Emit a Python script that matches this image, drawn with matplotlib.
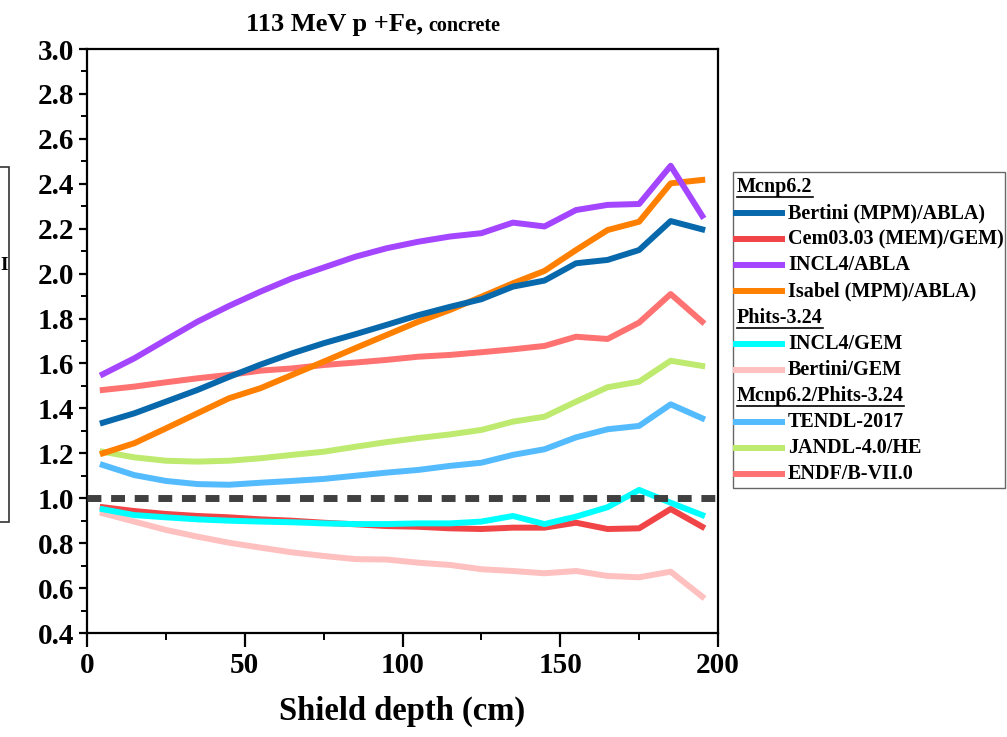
import matplotlib
matplotlib.use("Agg")
import matplotlib.pyplot as plt
from matplotlib.lines import Line2D
from matplotlib.patches import Rectangle
from matplotlib.ticker import MultipleLocator, FormatStrFormatter

plt.rcParams["font.family"] = ["Liberation Serif", "DejaVu Serif"]
plt.rcParams["font.weight"] = "bold"

# ---- data -------------------------------------------------------------
depth = [5, 15, 25, 35, 45, 55, 65, 75, 85, 95,
         105, 115, 125, 135, 145, 155, 165, 175, 185, 195]

bertini_abla = [1.336, 1.378, 1.430, 1.482, 1.540, 1.595, 1.645, 1.690, 1.730, 1.772,
                1.815, 1.852, 1.886, 1.942, 1.969, 2.046, 2.061, 2.105, 2.234, 2.197]
cem_gem = [0.960, 0.943, 0.930, 0.921, 0.915, 0.906, 0.900, 0.891, 0.884, 0.876,
           0.873, 0.866, 0.863, 0.869, 0.869, 0.891, 0.863, 0.866, 0.952, 0.873]
incl4_abla = [1.552, 1.623, 1.705, 1.786, 1.856, 1.920, 1.979, 2.027, 2.075, 2.113,
              2.142, 2.165, 2.180, 2.227, 2.210, 2.283, 2.306, 2.310, 2.480, 2.257]
isabel_abla = [1.200, 1.245, 1.311, 1.378, 1.445, 1.490, 1.549, 1.608, 1.668, 1.727,
               1.786, 1.838, 1.897, 1.957, 2.012, 2.105, 2.194, 2.231, 2.402, 2.417]
incl4_gem = [0.951, 0.925, 0.915, 0.906, 0.900, 0.896, 0.893, 0.888, 0.885, 0.885,
             0.888, 0.888, 0.896, 0.921, 0.885, 0.918, 0.960, 1.037, 0.980, 0.925]
bertini_gem = [0.933, 0.896, 0.859, 0.829, 0.802, 0.780, 0.759, 0.743, 0.729, 0.727,
               0.713, 0.703, 0.684, 0.676, 0.666, 0.676, 0.654, 0.648, 0.673, 0.562]
tendl = [1.148, 1.103, 1.077, 1.063, 1.060, 1.069, 1.077, 1.086, 1.100, 1.114,
         1.126, 1.144, 1.158, 1.193, 1.218, 1.271, 1.307, 1.322, 1.418, 1.356]
jandl = [1.207, 1.182, 1.167, 1.163, 1.167, 1.178, 1.193, 1.207, 1.229, 1.250,
         1.268, 1.284, 1.304, 1.341, 1.363, 1.430, 1.494, 1.519, 1.612, 1.589]
endf = [1.482, 1.497, 1.516, 1.534, 1.549, 1.568, 1.578, 1.593, 1.604, 1.616,
        1.630, 1.638, 1.650, 1.663, 1.678, 1.719, 1.709, 1.782, 1.909, 1.786]

groups = ["Mcnp6.2", "Phits-3.24", "Mcnp6.2/Phits-3.24"]
series = [
    # (group, label, values, colour)
    (0, "Bertini (MPM)/ABLA)", bertini_abla, "#0868ac"),
    (0, "Cem03.03 (MEM)/GEM)", cem_gem, "#f04446"),
    (0, "INCL4/ABLA", incl4_abla, "#a445ff"),
    (0, "Isabel (MPM)/ABLA)", isabel_abla, "#ff8000"),
    (1, "INCL4/GEM", incl4_gem, "#00ffff"),
    (1, "Bertini/GEM", bertini_gem, "#ffc0c0"),
    (2, "TENDL-2017", tendl, "#55bbff"),
    (2, "JANDL-4.0/HE", jandl, "#bdea6f"),
    (2, "ENDF/B-VII.0", endf, "#ff7272"),
]

W, H = 1007, 737


def fx(px):
    return px / W


def fy(py):
    return 1 - py / H


fig = plt.figure(figsize=(W / 100, H / 100), dpi=100)
ax = fig.add_axes([fx(87), fy(633), (718 - 87) / W, (633 - 49) / H])

# draw series back to front, cyan ends up above the red in the low band
draw_order = [5, 1, 4, 6, 7, 8, 3, 0, 2]
for k in draw_order:
    g, lab, vals, col = series[k]
    ax.plot(depth, vals, color=col, lw=4.3, zorder=3)

ax.axhline(1.0, color="#404040", lw=5, dashes=(2.0, 1.4), zorder=4)

ax.set_xlim(0, 200)
ax.set_ylim(0.4, 3.0)
ax.xaxis.set_major_locator(MultipleLocator(50))
ax.xaxis.set_minor_locator(MultipleLocator(25))
ax.yaxis.set_major_locator(MultipleLocator(0.2))
ax.yaxis.set_minor_locator(MultipleLocator(0.1))
ax.yaxis.set_major_formatter(FormatStrFormatter("%.1f"))
for s in ax.spines.values():
    s.set_linewidth(1.6)
ax.tick_params(axis="x", which="major", direction="out", length=10, width=1.6,
               labelsize=21, pad=4)
ax.tick_params(axis="x", which="minor", direction="out", length=5, width=1.4)
ax.tick_params(axis="y", which="major", direction="out", length=6, width=1.6,
               labelsize=21, pad=3)
ax.tick_params(axis="y", which="minor", direction="out", length=4, width=1.4)
ax.set_xlabel("Shield depth (cm)", fontsize=23.5, fontweight="bold", labelpad=12)

# title in two sizes
fig.text(fx(246), fy(31), "113 MeV p +Fe,", fontsize=19, fontweight="bold",
         ha="left", va="baseline")
fig.text(fx(428), fy(31), "concrete", fontsize=14.5, fontweight="bold",
         ha="left", va="baseline")

# legend box with underlined group headings
fig.add_artist(Rectangle((fx(733), fy(488)), (1005 - 733) / W, (488 - 172) / H,
                         transform=fig.transFigure, fill=False,
                         edgecolor="#666666", lw=1.0))
fig.canvas.draw()
renderer = fig.canvas.get_renderer()
row_y = 187
row_step = 26.1
last_group = None
for g, lab, vals, col in series:
    if g != last_group:
        t = fig.text(fx(737), fy(row_y), groups[g], fontsize=14.5,
                     fontweight="bold", ha="left", va="center")
        bb = t.get_window_extent(renderer)
        fig.add_artist(Line2D([fx(737), fx(737) + bb.width / W],
                              [fy(row_y + 10), fy(row_y + 10)],
                              transform=fig.transFigure, color="black", lw=1.2))
        row_y += row_step
        last_group = g
    fig.add_artist(Line2D([fx(736), fx(782)], [fy(row_y), fy(row_y)],
                          transform=fig.transFigure, color=col, lw=4.3))
    fig.text(fx(788), fy(row_y), lab, fontsize=14.5, fontweight="bold",
             ha="left", va="center")
    row_y += row_step

# neighbouring panel frame at the left edge
fig.add_artist(Rectangle((fx(-20), fy(522)), 29 / W, (522 - 167) / H,
                         transform=fig.transFigure, fill=False,
                         edgecolor="#333333", lw=1.2))
fig.text(fx(8), fy(266), "I", fontsize=14, fontweight="bold",
         ha="right", va="center")

fig.savefig("out.png", dpi=100)
